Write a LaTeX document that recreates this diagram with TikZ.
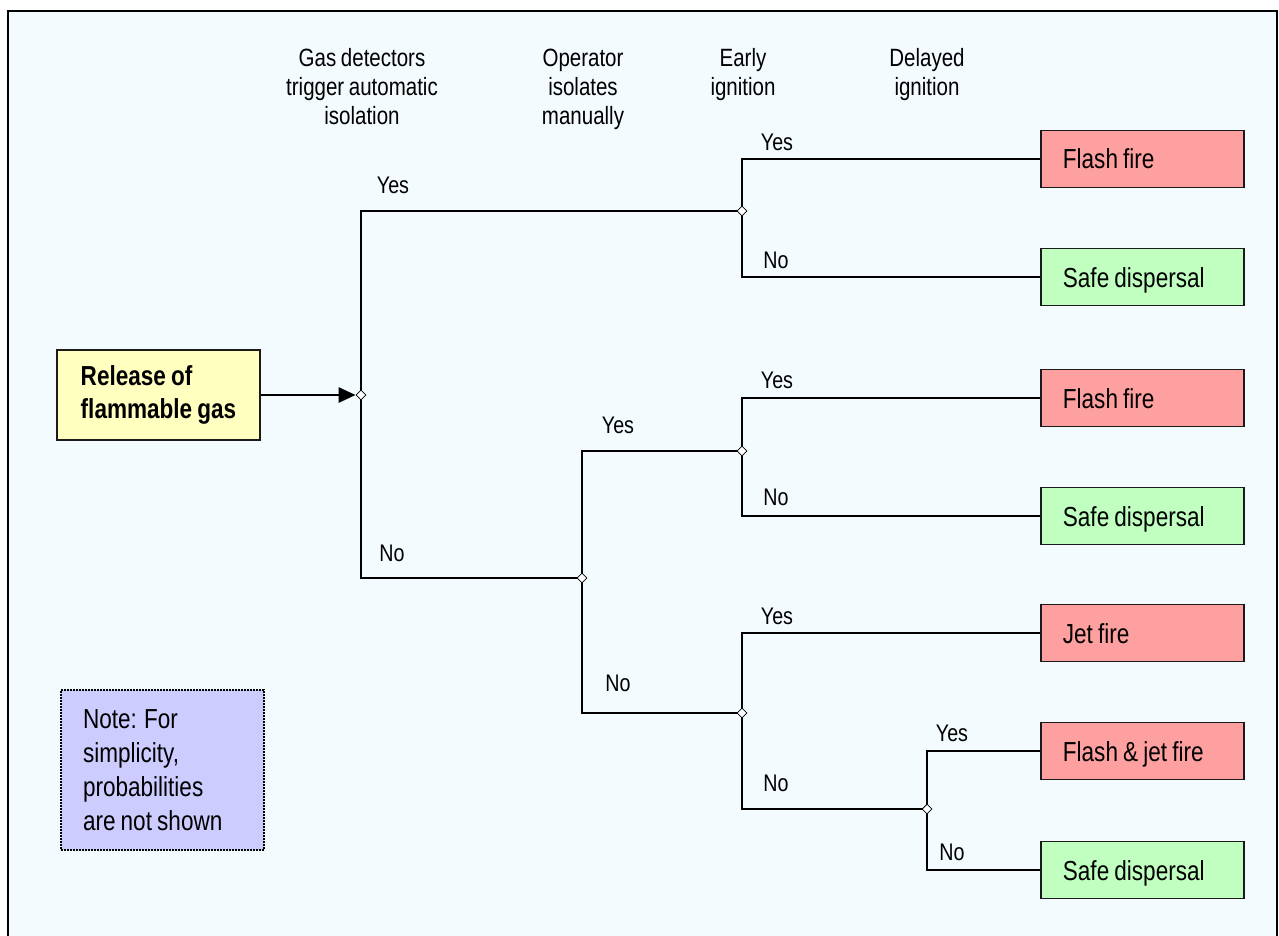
\documentclass[tikz,border=0pt]{standalone}
\usepackage{fontspec}
\setmainfont[FakeStretch=0.82,WordSpace=0.82]{Liberation Sans}
\usetikzlibrary{arrows.meta,shapes.geometric}
\definecolor{bgc}{HTML}{F3FBFE}
\definecolor{redfill}{HTML}{FFA0A0}
\definecolor{greenfill}{HTML}{C0FFC0}
\definecolor{yellowfill}{HTML}{FFFFC0}
\definecolor{notefill}{HTML}{CCCCFF}
\definecolor{boxline}{HTML}{1A1A1A}
\begin{document}
\begin{tikzpicture}[x=1pt,y=-1pt,
  natspace/.style={execute at begin node={\spaceskip=0pt\xspaceskip=0pt}},
  outbox/.style={draw=boxline, line width=1.8pt, inner xsep=22pt, inner ysep=0pt,
    text width=159pt, align=left, natspace, minimum height=57pt, anchor=west,
    text height=20pt, text depth=0pt, font=\fontsize{27.5}{33}\selectfont},
  badbox/.style={outbox, fill=redfill},
  goodbox/.style={outbox, fill=greenfill},
  junction/.style={diamond, draw, fill=white, line width=0.8pt, inner sep=0pt, minimum size=10pt},
  conn/.style={line width=1.8pt, black},
  lbl/.style={font=\fontsize{24}{28}\selectfont, inner sep=0pt},
  hdr/.style={font=\fontsize{25}{29}\selectfont, align=center, inner sep=0pt}
]
\useasboundingbox (0,0) rectangle (1279,936);
\fill[white] (0,0) rectangle (1279,936);
\fill[bgc] (8,11) rectangle (1277,945);
\draw[line width=2pt] (8,945) -- (8,11) -- (1277,11) -- (1277,945);

% headers
\node[hdr] (h1) at (362,87) {Gas detectors\\trigger automatic\\isolation};
\node[hdr] (h2) at (583,89.5) {Operator\\isolates\\manually};
\node[hdr] (h3) at (743,75) {Early\\ignition};
\node[hdr] (h4) at (927,75) {Delayed\\ignition};

% root
\node[draw=boxline, line width=1.8pt, fill=yellowfill, inner xsep=23pt, inner ysep=0pt,
  align=left, minimum width=203pt, minimum height=90pt,
  font=\bfseries\fontsize{27.5}{33}\selectfont] (root) at (158.5,395) {Release of\\flammable gas};

% note
\node[draw=black, line width=1.8pt, dash pattern=on 1.6pt off 1.4pt, fill=notefill,
  inner xsep=22pt, inner ysep=0pt, text width=159pt, align=left, natspace, minimum height=160pt,
  font=\fontsize{27.5}{34}\selectfont] (note) at (162.5,770)
  {Note: For\\simplicity,\\probabilities\\are not shown};

% junctions (coordinates)
\coordinate (p0) at (361,395);
\coordinate (p1) at (742,211);
\coordinate (p2) at (582,578);
\coordinate (p3) at (742,451);
\coordinate (p4) at (742,713);
\coordinate (p5) at (927,809);

% outcome boxes
\node[badbox]  (o1) at (1040,159) {Flash fire};
\node[goodbox] (o2) at (1040,277) {Safe dispersal};
\node[badbox]  (o3) at (1040,398) {Flash fire};
\node[goodbox] (o4) at (1040,516) {Safe dispersal};
\node[badbox]  (o5) at (1040,633) {Jet fire};
\node[badbox]  (o6) at (1040,751) {Flash \& jet fire};
\node[goodbox] (o7) at (1040,870) {Safe dispersal};

% connectors
\draw[conn] (p0) |- (p1);
\draw[conn] (p0) |- (p2);
\draw[conn] (p1) |- (o1.west);
\draw[conn] (p1) |- (o2.west);
\draw[conn] (p2) |- (p3);
\draw[conn] (p2) |- (p4);
\draw[conn] (p3) |- (o3.west);
\draw[conn] (p3) |- (o4.west);
\draw[conn] (p4) |- (o5.west);
\draw[conn] (p4) |- (p5);
\draw[conn] (p5) |- (o6.west);
\draw[conn] (p5) |- (o7.west);

% junction markers
\node[junction] (n0) at (p0) {};
\node[junction] (n1) at (p1) {};
\node[junction] (n2) at (p2) {};
\node[junction] (n3) at (p3) {};
\node[junction] (n4) at (p4) {};
\node[junction] (n5) at (p5) {};

\draw[line width=2.8pt, -{Triangle[length=17pt,width=15pt]}] (root) -- (n0);

% labels
\node[lbl] (l0y) at (393,185) {Yes};
\node[lbl] (l0n) at (392,553) {No};
\node[lbl] (l1y) at (777,142) {Yes};
\node[lbl] (l1n) at (776,260) {No};
\node[lbl] (l2y) at (618,425) {Yes};
\node[lbl] (l2n) at (618,683) {No};
\node[lbl] (l3y) at (777,380) {Yes};
\node[lbl] (l3n) at (776,497) {No};
\node[lbl] (l4y) at (777,616) {Yes};
\node[lbl] (l4n) at (776,783) {No};
\node[lbl] (l5y) at (952,733) {Yes};
\node[lbl] (l5n) at (952,852) {No};
\end{tikzpicture}
\end{document}
